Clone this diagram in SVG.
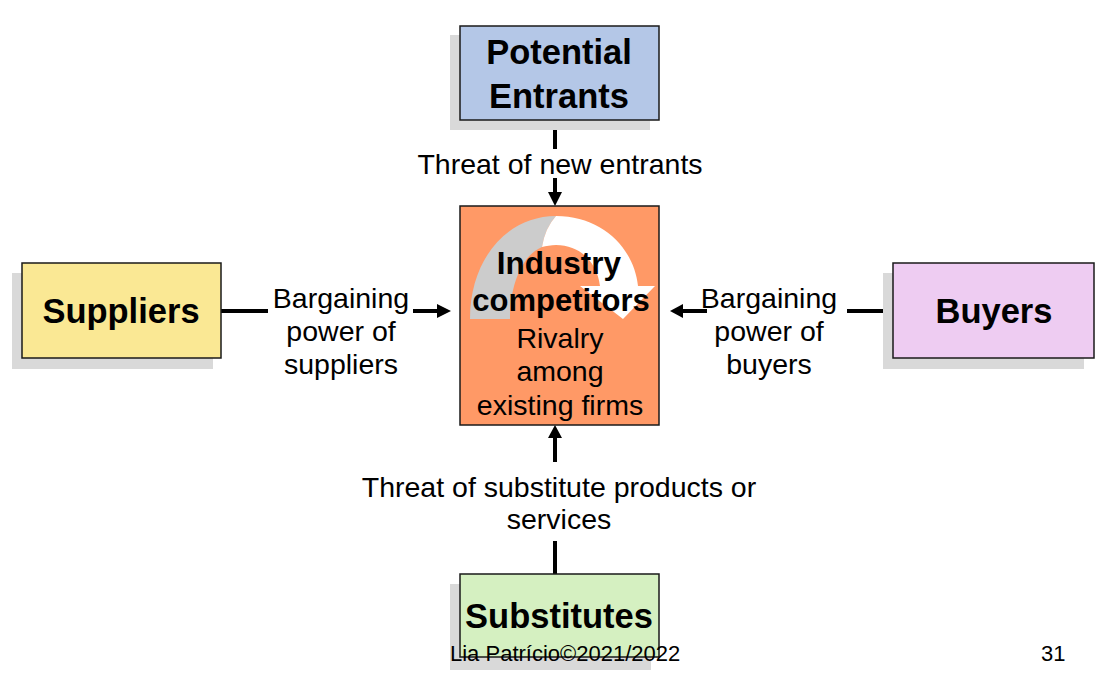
<svg xmlns="http://www.w3.org/2000/svg" width="1113" height="687" viewBox="0 0 1113 687">
<defs>
<style>
.shadow{fill:#D9D9D9}
.box{stroke:#1A1A1A;stroke-width:1.5}
.title{font-family:"Liberation Sans",Arial,sans-serif;font-weight:bold;font-size:34.5px;fill:#000;text-anchor:middle}
.lbl{font-family:"Liberation Sans",Arial,sans-serif;font-size:28.5px;fill:#000;text-anchor:middle}
.foot{font-family:"Liberation Sans",Arial,sans-serif;font-size:22px;fill:#000}
.ln{stroke:#000;stroke-width:4;fill:none}
.ah{fill:#000}
</style>
</defs>
<rect width="1113" height="687" fill="#FFFFFF"/>
<g id="connectors">
<line class="ln" x1="555" y1="120" x2="555" y2="149"/>
<line class="ln" x1="555" y1="178" x2="555" y2="193"/>
<polygon class="ah" points="548,192 562,192 555,206"/>
<line class="ln" x1="221" y1="311" x2="268" y2="311"/>
<line class="ln" x1="413" y1="311" x2="438" y2="311"/>
<polygon class="ah" points="437,304 437,318 451,311"/>
<line class="ln" x1="847" y1="311" x2="893" y2="311"/>
<line class="ln" x1="682" y1="311" x2="707" y2="311"/>
<polygon class="ah" points="683,304 683,318 670,311"/>
<line class="ln" x1="555" y1="437" x2="555" y2="462"/>
<polygon class="ah" points="548,438 562,438 555,425"/>
<line class="ln" x1="555" y1="541" x2="555" y2="574"/>
</g>
<g id="potential-entrants">
<rect class="shadow" x="450" y="35" width="200" height="95"/>
<rect class="box" x="460" y="26" width="199" height="94" fill="#B4C7E7"/>
<text class="title" x="559" y="64">Potential</text>
<text class="title" x="559" y="108">Entrants</text>
</g>
<g id="industry-competitors">
<rect class="box" x="460" y="206" width="199" height="219" fill="#FF9966"/>
<path d="M470,319 C470,258 508,216 556,216 Q545,228 542,247 C522,255 510,285 510,319 Z" fill="#CCCCCC"/>
<path d="M556,216 C602,216 634,248 638,286 L655,286 L623,319 L580,286 L600,286 C597,262 580,245 556,245 C551,245 546,246 542,247 Q545,228 556,216 Z" fill="#FFFFFF"/>
<text class="title" x="559" y="274" style="font-size:31.5px">Industry</text>
<text class="title" x="561" y="311" style="font-size:31px">competitors</text>
<text class="lbl" x="560" y="348">Rivalry</text>
<text class="lbl" x="560" y="381">among</text>
<text class="lbl" x="560" y="415">existing firms</text>
</g>
<g id="suppliers">
<rect class="shadow" x="12" y="273" width="201" height="96"/>
<rect class="box" x="22" y="263" width="199" height="95" fill="#FAE894"/>
<text class="title" x="121" y="323">Suppliers</text>
</g>
<g id="buyers">
<rect class="shadow" x="883" y="273" width="201" height="96"/>
<rect class="box" x="893" y="263" width="201" height="95" fill="#EECCF2"/>
<text class="title" x="994" y="323">Buyers</text>
</g>
<g id="substitutes">
<rect class="shadow" x="450" y="584" width="201" height="86"/>
<rect class="box" x="460" y="574" width="199" height="83" fill="#D5F0C1"/>
<text class="title" x="559" y="628">Substitutes</text>
</g>
<g id="labels">
<text class="lbl" x="560" y="174">Threat of new entrants</text>
<text class="lbl" x="341" y="308">Bargaining</text>
<text class="lbl" x="341" y="341">power of</text>
<text class="lbl" x="341" y="374">suppliers</text>
<text class="lbl" x="769" y="308">Bargaining</text>
<text class="lbl" x="769" y="341">power of</text>
<text class="lbl" x="769" y="374">buyers</text>
<text class="lbl" x="559" y="497">Threat of substitute products or</text>
<text class="lbl" x="559" y="529">services</text>
</g>
<g id="footer">
<text class="foot" x="450" y="661">Lia Patrício©2021/2022</text>
<text class="foot" x="1041" y="661">31</text>
</g>
</svg>
